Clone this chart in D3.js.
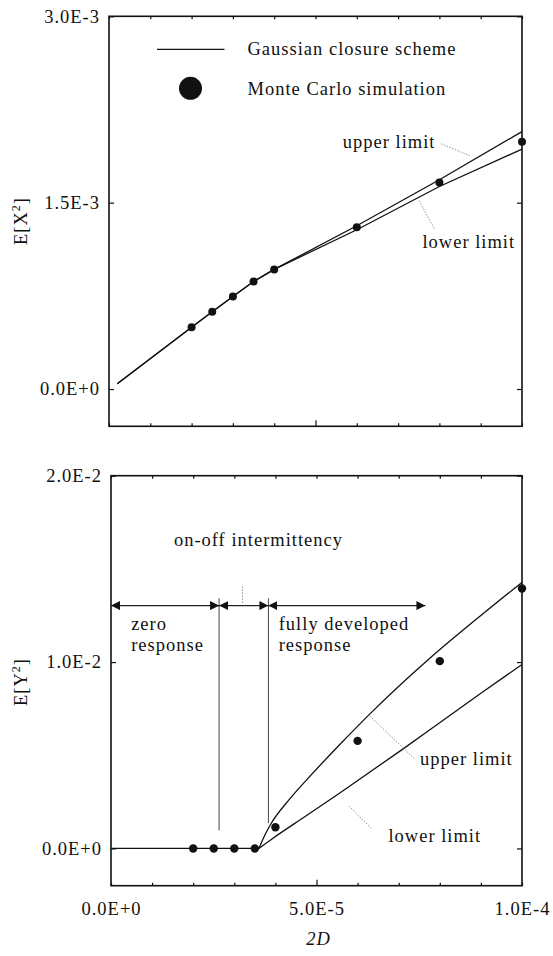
<!DOCTYPE html>
<html><head><meta charset="utf-8">
<script src="https://cdn.jsdelivr.net/npm/d3@7"></script>
<style>
body{margin:0;background:#fff}
svg text{font-family:"Liberation Serif","Tinos","Times New Roman","DejaVu Serif",serif;font-size:18.5px;letter-spacing:1px;fill:#111}
</style>
</head><body>
<svg id="c" width="553" height="956"></svg>
<script>
// ---------- data ----------
const xTicks = [0, 1e-5, 2e-5, 3e-5, 4e-5, 5e-5, 6e-5, 7e-5, 8e-5, 9e-5, 1e-4];
const xLabelValues = [0, 5e-5, 1e-4];
const xLabels = ["0.0E+0", "5.0E-5", "1.0E-4"];
const topYTickValues = [0, 1.5e-3, 3e-3];
const topYTickLabels = ["0.0E+0", "1.5E-3", "3.0E-3"];
const botYTickValues = [0, 1e-2, 2e-2];
const botYTickLabels = ["0.0E+0", "1.0E-2", "2.0E-2"];

// top panel: E[X^2]
const topLineX  = [2e-6, 2e-5, 2.5e-5, 3e-5, 3.5e-5, 4e-5, 6e-5, 8e-5, 1e-4];
const topUpper  = [0.043e-3, 0.497e-3, 0.622e-3, 0.745e-3, 0.866e-3, 0.963e-3, 1.314e-3, 1.684e-3, 2.072e-3];
const topLower  = [0.043e-3, 0.497e-3, 0.622e-3, 0.745e-3, 0.866e-3, 0.963e-3, 1.282e-3, 1.630e-3, 1.931e-3];
const topMcX    = [2e-5, 2.5e-5, 3e-5, 3.5e-5, 4e-5, 6e-5, 8e-5, 1e-4];
const topMcY    = [0.497e-3, 0.622e-3, 0.745e-3, 0.866e-3, 0.963e-3, 1.303e-3, 1.662e-3, 1.990e-3];

// bottom panel: E[Y^2]
const botFlatX  = [0, 3.6e-5];
const botFlatY  = [0, 0];
const botUpperX = [3.6e-5, 3.75e-5, 3.9e-5, 4.35e-5, 4.75e-5, 5.55e-5, 6.3e-5, 7.75e-5, 9e-5, 1e-4];
const botUpperY = [0, 0.75e-3, 1.35e-3, 2.655e-3, 3.655e-3, 5.535e-3, 7.22e-3, 10.19e-3, 12.5e-3, 14.28e-3];
const botLowerX = [3.6e-5, 3.95e-5, 4.75e-5, 5.55e-5, 7.1e-5, 7.75e-5, 9e-5, 1e-4];
const botLowerY = [0, 0.56e-3, 1.75e-3, 2.95e-3, 5.33e-3, 6.35e-3, 8.33e-3, 9.87e-3];
const botMcX    = [2e-5, 2.5e-5, 3e-5, 3.5e-5, 4e-5, 6e-5, 8e-5, 1e-4];
const botMcY    = [0, 0, 0, 0, 1.14e-3, 5.77e-3, 1.005e-2, 1.395e-2];

// regime boundaries and arrows (bottom panel, data units)
const regimeBounds = [2.63e-5, 3.83e-5];
const regimeTop = 1.342e-2;
const regimeBottoms = [0.965e-3, 1.357e-3];
const arrowLevel = 1.303e-2;
const arrowSpans = [[0, 2.63e-5], [2.63e-5, 3.83e-5], [3.83e-5, 7.65e-5]];

// ---------- layout ----------
const svg = d3.select("#c");
svg.append("rect").attr("width", 553).attr("height", 956).attr("fill", "#fff");

const topX = d3.scaleLinear().domain([0, 1e-4]).range([109, 522]);
const topY = d3.scaleLinear().domain([-0.3e-3, 3e-3]).range([426.3, 16.3]);
const botX = d3.scaleLinear().domain([0, 1e-4]).range([111, 522]);
const botY = d3.scaleLinear().domain([-0.002, 0.02]).range([885.7, 475.7]);

const defs = svg.append("defs");
defs.append("marker").attr("id", "ah").attr("viewBox", "0 0 10 10")
  .attr("refX", 10).attr("refY", 5).attr("markerWidth", 9).attr("markerHeight", 9.5)
  .attr("markerUnits", "userSpaceOnUse").attr("orient", "auto-start-reverse")
  .append("path").attr("d", "M0,0 L10,5 L0,10 Z").attr("fill", "#111");

function axes(x, y, yVals, yLabs, showX) {
  const [x0, x1] = x.range();
  const [y0, y1] = y.range();
  const g = svg.append("g");
  const fmtX = d => { const i = xLabelValues.indexOf(d); return (showX && i >= 0) ? xLabels[i] : ""; };
  const b = g.append("g").attr("transform", `translate(0,${y0})`)
    .call(d3.axisBottom(x).tickValues(xTicks).tickSizeInner(-3).tickSizeOuter(0).tickPadding(16).tickFormat(fmtX));
  b.selectAll(".tick line").attr("y2", d => d === 5e-5 ? -6 : -3);
  g.append("g").attr("transform", `translate(0,${y1})`)
    .call(d3.axisTop(x).tickValues(xTicks).tickSizeInner(-3).tickSizeOuter(0).tickFormat(""));
  g.append("g").attr("transform", `translate(${x0},0)`)
    .call(d3.axisLeft(y).tickValues(yVals).tickSizeInner(-5).tickSizeOuter(0).tickPadding(9)
      .tickFormat((d, i) => yLabs[i]));
  g.append("g").attr("transform", `translate(${x1},0)`)
    .call(d3.axisRight(y).tickValues(yVals).tickSizeInner(-5).tickSizeOuter(0).tickFormat(""));
  g.selectAll(".domain").remove();
  g.selectAll(".tick line").attr("stroke", "#111").attr("stroke-width", 1.2);
  g.selectAll("g").attr("font-family", null).attr("font-size", null);
  g.selectAll("text").attr("fill", "#111");
  svg.append("rect").attr("x", x0).attr("y", y1).attr("width", x1 - x0).attr("height", y0 - y1)
    .attr("fill", "none").attr("stroke", "#111").attr("stroke-width", 1.6);
}

function line(x, y, xs, ys, curve) {
  const pts = xs.map((d, i) => [d, ys[i]]);
  svg.append("path").datum(pts)
    .attr("d", d3.line().x(d => x(d[0])).y(d => y(d[1])).curve(curve || d3.curveLinear))
    .attr("fill", "none").attr("stroke", "#111").attr("stroke-width", 1.3);
}
function dots(x, y, xs, ys, r) {
  svg.append("g").selectAll("circle").data(xs.map((d, i) => [d, ys[i]])).join("circle")
    .attr("cx", d => x(d[0])).attr("cy", d => y(d[1])).attr("r", r).attr("fill", "#111");
}
function leader(x, y, a, b) {
  svg.append("line").attr("x1", x(a[0])).attr("y1", y(a[1])).attr("x2", x(b[0])).attr("y2", y(b[1]))
    .attr("stroke", "#888").attr("stroke-width", 0.9).attr("stroke-dasharray", "1.5,1.5");
}
function label(x, y, t, xv, yv, anchor) {
  svg.append("text").attr("x", x(xv)).attr("y", y(yv)).attr("text-anchor", anchor || "start")
    .attr("fill", "#111").text(t);
}

// ---------- top panel ----------
axes(topX, topY, topYTickValues, topYTickLabels, false);
line(topX, topY, topLineX, topUpper);
line(topX, topY, topLineX, topLower);
dots(topX, topY, topMcX, topMcY, 4);

// legend
svg.append("line").attr("x1", 157).attr("x2", 224.5).attr("y1", 49.3).attr("y2", 49.3)
  .attr("stroke", "#111").attr("stroke-width", 1.3);
svg.append("circle").attr("cx", 190.5).attr("cy", 88.3).attr("r", 11.5).attr("fill", "#111");
svg.append("text").attr("x", 247.5).attr("y", 55).attr("fill", "#111").text("Gaussian closure scheme");
svg.append("text").attr("x", 247.5).attr("y", 95).attr("fill", "#111").text("Monte Carlo simulation");

label(topX, topY, "upper limit", 5.66e-5, 1.939e-3);
leader(topX, topY, [8.04e-5, 1.974e-3], [8.74e-5, 1.877e-3]);
label(topX, topY, "lower limit", 7.59e-5, 1.134e-3);
leader(topX, topY, [7.51e-5, 1.515e-3], [7.89e-5, 1.282e-3]);

const t1 = svg.append("text").attr("transform", "translate(26.5,221) rotate(-90)")
  .attr("text-anchor", "middle").attr("fill", "#111");
t1.append("tspan").text("E[X");
t1.append("tspan").attr("font-size", "12px").attr("dy", -7).text("2");
t1.append("tspan").attr("dy", 7).text("]");

// ---------- bottom panel ----------
axes(botX, botY, botYTickValues, botYTickLabels, true);
line(botX, botY, botFlatX, botFlatY);
line(botX, botY, botUpperX, botUpperY, d3.curveMonotoneX);
line(botX, botY, botLowerX, botLowerY, d3.curveMonotoneX);
dots(botX, botY, botMcX, botMcY, 4.2);

regimeBounds.forEach((b, i) => {
  svg.append("line").attr("x1", botX(b)).attr("x2", botX(b))
    .attr("y1", botY(regimeTop)).attr("y2", botY(regimeBottoms[i]))
    .attr("stroke", "#333").attr("stroke-width", 0.9);
});
arrowSpans.forEach(s => {
  svg.append("line").attr("x1", botX(s[0])).attr("x2", botX(s[1]))
    .attr("y1", botY(arrowLevel)).attr("y2", botY(arrowLevel))
    .attr("stroke", "#222").attr("stroke-width", 1.1)
    .attr("marker-start", "url(#ah)").attr("marker-end", "url(#ah)");
});

label(botX, botY, "on-off intermittency", 1.53e-5, 1.621e-2);
leader(botX, botY, [3.2e-5, 1.406e-2], [3.2e-5, 1.317e-2]);
label(botX, botY, "zero", 0.49e-5, 1.174e-2);
label(botX, botY, "response", 0.49e-5, 1.058e-2);
label(botX, botY, "fully developed", 4.08e-5, 1.174e-2);
label(botX, botY, "response", 4.08e-5, 1.058e-2);
label(botX, botY, "upper limit", 7.52e-5, 4.45e-3);
leader(botX, botY, [6.30e-5, 7.1e-3], [7.4e-5, 4.77e-3]);
label(botX, botY, "lower limit", 6.75e-5, 0.36e-3);
leader(botX, botY, [5.79e-5, 2.27e-3], [6.36e-5, 1.02e-3]);

const t2 = svg.append("text").attr("transform", "translate(26.5,682) rotate(-90)")
  .attr("text-anchor", "middle").attr("fill", "#111");
t2.append("tspan").text("E[Y");
t2.append("tspan").attr("font-size", "12px").attr("dy", -7).text("2");
t2.append("tspan").attr("dy", 7).text("]");

svg.append("text").attr("x", botX(5e-5) + 2).attr("y", 945).attr("text-anchor", "middle")
  .attr("font-style", "italic").attr("fill", "#111").text("2D");
</script>
</body></html>
